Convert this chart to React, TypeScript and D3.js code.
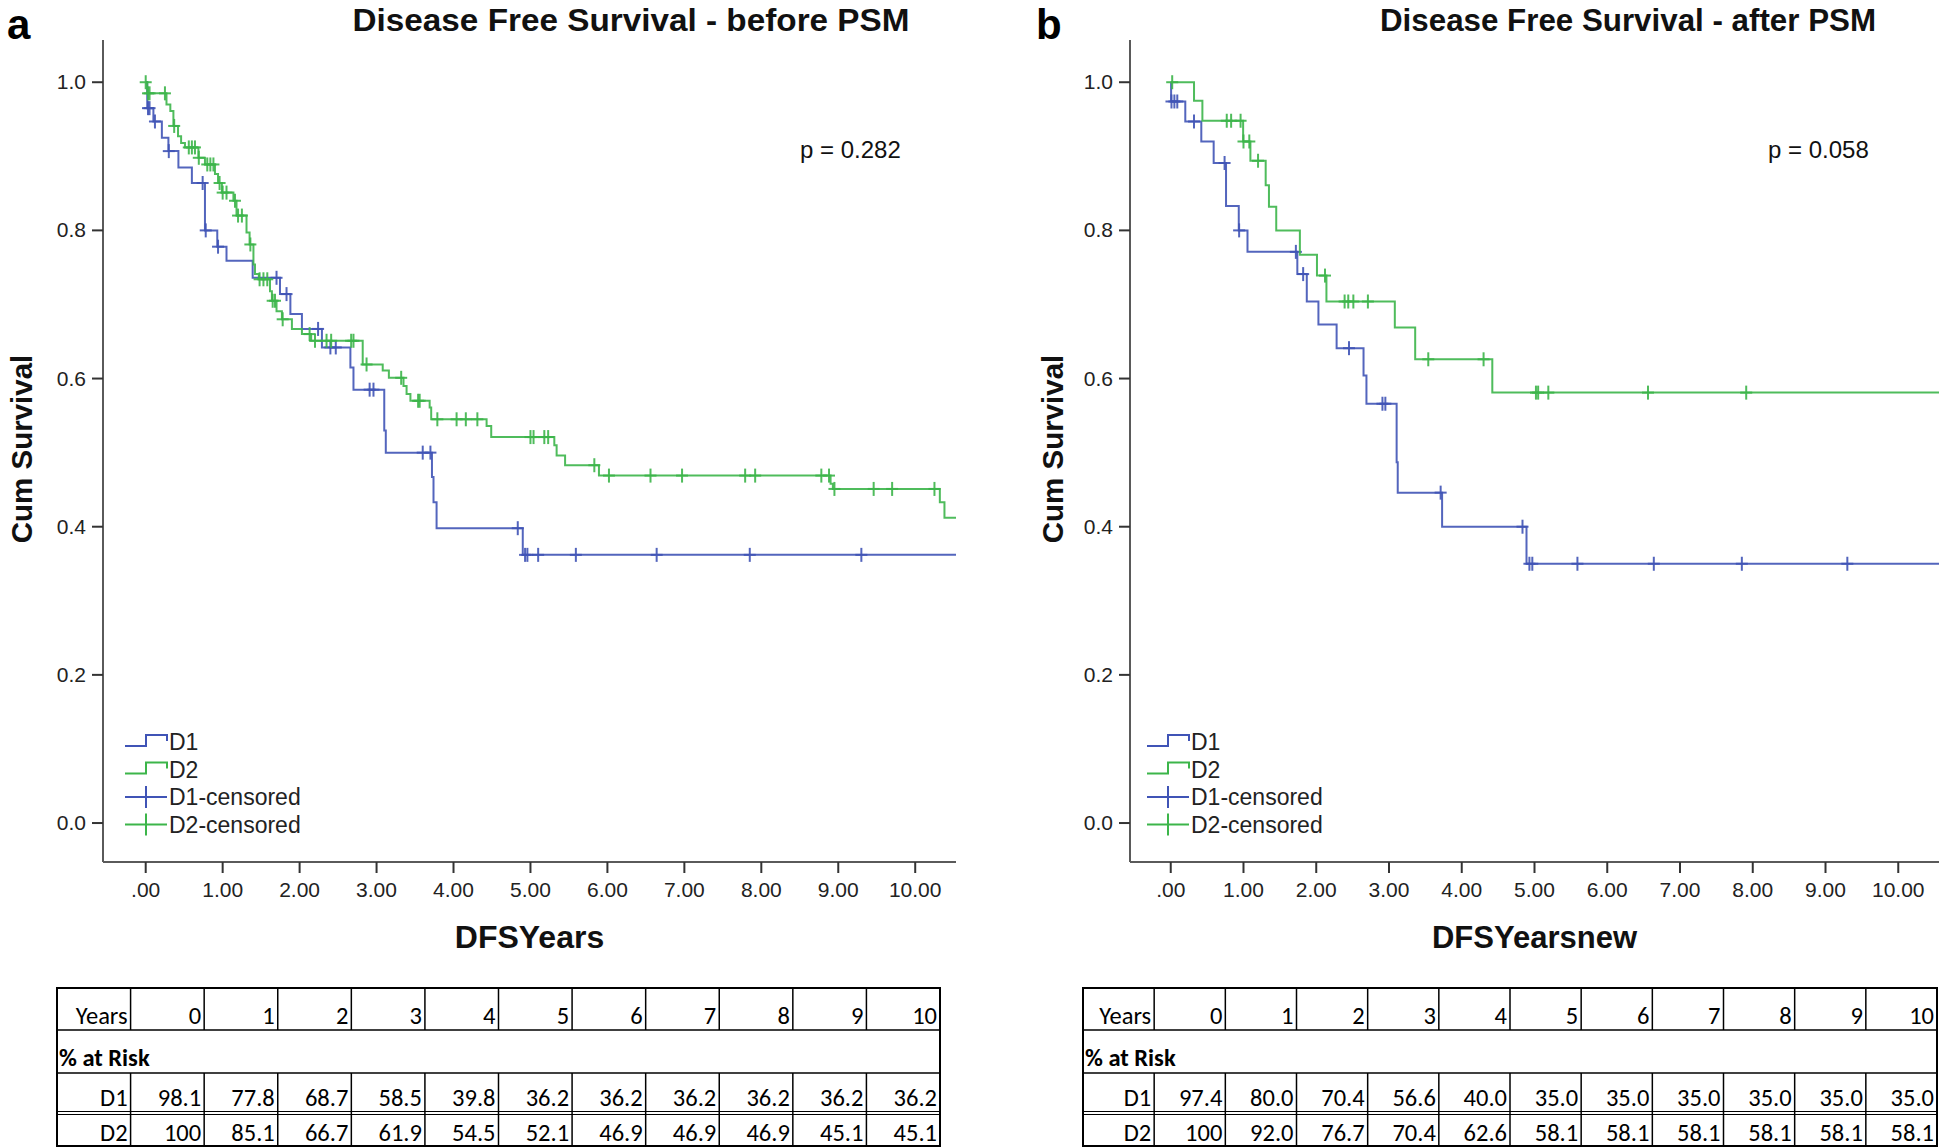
import React from "react";
import * as d3 from "d3";

type Pt = [number, number];

// ---------- shared ticks / labels ----------
const xTickValues = [0, 1, 2, 3, 4, 5, 6, 7, 8, 9, 10];
const xTickLabels = [".00", "1.00", "2.00", "3.00", "4.00", "5.00", "6.00", "7.00", "8.00", "9.00", "10.00"];
const yTickValues = [0, 0.2, 0.4, 0.6, 0.8, 1.0];
const yTickLabels = ["0.0", "0.2", "0.4", "0.6", "0.8", "1.0"];
const tableYears = ["0", "1", "2", "3", "4", "5", "6", "7", "8", "9", "10"];
const legendLabels = ["D1", "D2", "D1-censored", "D2-censored"];

// ---------- panel a (before PSM) ----------
const aD1Events: Pt[] = [
  [0.02, 0.965], [0.1, 0.947], [0.21, 0.925], [0.295, 0.907], [0.425, 0.885], [0.6, 0.864],
  [0.77, 0.8], [0.93, 0.778], [1.05, 0.759], [1.39, 0.736], [1.745, 0.714], [1.88, 0.687],
  [2.03, 0.667], [2.29, 0.642], [2.66, 0.615], [2.7, 0.585], [3.1, 0.53], [3.12, 0.5],
  [3.72, 0.467], [3.74, 0.433], [3.78, 0.398], [4.9, 0.362],
];
const aD1Censored = [
  0.03, 0.05, 0.12, 0.3, 0.74, 0.78, 0.94, 1.7, 1.83, 2.24, 2.4, 2.47, 2.91, 2.96, 3.6, 3.7,
  4.835, 4.93, 4.96, 5.1, 5.59, 6.64, 7.85, 9.3,
];
const aD1End = 10.53;

const aD2Events: Pt[] = [
  [0.02, 0.985], [0.27, 0.97], [0.32, 0.961], [0.36, 0.941], [0.42, 0.927], [0.46, 0.918],
  [0.51, 0.912], [0.685, 0.898], [0.77, 0.889], [0.9, 0.876], [0.94, 0.864], [0.99, 0.851],
  [1.14, 0.84], [1.18, 0.82], [1.31, 0.797], [1.35, 0.781], [1.4, 0.754], [1.42, 0.741],
  [1.47, 0.734], [1.615, 0.718], [1.64, 0.705], [1.7, 0.691], [1.77, 0.68], [1.9, 0.667],
  [2.03, 0.66], [2.15, 0.651], [2.82, 0.619], [3.08, 0.611], [3.16, 0.601], [3.35, 0.59],
  [3.39, 0.579], [3.44, 0.57], [3.69, 0.561], [3.71, 0.545], [4.43, 0.536], [4.49, 0.521],
  [5.31, 0.51], [5.34, 0.496], [5.45, 0.483], [5.89, 0.469], [8.9, 0.458], [8.93, 0.451],
  [10.32, 0.433], [10.38, 0.412],
];
const aD2Censored = [
  0.0, 0.03, 0.05, 0.25, 0.37, 0.56, 0.6, 0.64, 0.69, 0.8, 0.84, 0.88, 0.96, 1.0, 1.05, 1.16,
  1.2, 1.25, 1.36, 1.48, 1.53, 1.58, 1.65, 1.68, 1.78, 2.13, 2.2, 2.35, 2.41, 2.67, 2.7, 2.87,
  3.32, 3.54, 3.56, 3.79, 4.04, 4.16, 4.31, 5.0, 5.04, 5.18, 5.23, 5.83, 6.02, 6.56, 6.97,
  7.79, 7.92, 8.78, 8.88, 8.95, 9.46, 9.7, 10.25,
];
const aD2End = 10.53;

const aTableD1 = ["98.1", "77.8", "68.7", "58.5", "39.8", "36.2", "36.2", "36.2", "36.2", "36.2", "36.2"];
const aTableD2 = ["100", "85.1", "66.7", "61.9", "54.5", "52.1", "46.9", "46.9", "46.9", "45.1", "45.1"];

// ---------- panel b (after PSM) ----------
const bD1Events: Pt[] = [
  [0.005, 0.974], [0.2, 0.947], [0.42, 0.92], [0.59, 0.891], [0.76, 0.833], [0.935, 0.8],
  [1.055, 0.771], [1.74, 0.741], [1.87, 0.704], [2.03, 0.673], [2.28, 0.641], [2.65, 0.604],
  [2.69, 0.566], [3.105, 0.487], [3.12, 0.446], [3.73, 0.4], [4.89, 0.35],
];
const bD1Censored = [0.01, 0.05, 0.09, 0.32, 0.74, 0.94, 1.72, 1.82, 2.45, 2.91, 2.95, 3.71, 4.835, 4.93, 4.97, 5.59, 6.64, 7.85, 9.3];
const bD1End = 10.56;

const bD2Events: Pt[] = [
  [0.32, 0.975], [0.435, 0.948], [0.995, 0.92], [1.095, 0.894], [1.305, 0.861], [1.35, 0.832],
  [1.45, 0.8], [1.775, 0.767], [2.01, 0.739], [2.14, 0.704], [3.08, 0.669], [3.36, 0.626],
  [4.42, 0.581],
];
const bD2Censored = [0.02, 0.77, 0.83, 0.96, 1.0, 1.08, 1.2, 2.12, 2.39, 2.44, 2.51, 2.71, 3.54, 4.3, 5.02, 5.05, 5.19, 6.56, 7.91];
const bD2End = 10.56;

const bTableD1 = ["97.4", "80.0", "70.4", "56.6", "40.0", "35.0", "35.0", "35.0", "35.0", "35.0", "35.0"];
const bTableD2 = ["100", "92.0", "76.7", "70.4", "62.6", "58.1", "58.1", "58.1", "58.1", "58.1", "58.1"];

// ---------- styles ----------
const BLUE = "#4054b6";
const GREEN = "#3cb54a";
const AXIS = "#5a5a5a";
const FONT = "'Liberation Sans', Arial, sans-serif";
const TABLE_FONT = "Carlito, 'Liberation Sans Narrow', 'Liberation Sans', Arial, sans-serif";

const Y_DOMAIN: [number, number] = [-0.0526, 1.057];
const PLOT_TOP = 40;
const PLOT_BOTTOM = 862;

function survivalAt(events: Pt[], t: number): number {
  let v = 1;
  for (const e of events) if (e[0] <= t) v = e[1];
  return v;
}

type Series = { events: Pt[]; censored: number[]; end: number; color: string };

type PanelProps = {
  letter: string;
  letterX: number;
  title: string;
  titleX: number;
  titleLen: number;
  pText: string;
  pX: number;
  xTitle: string;
  xTitleSize: number;
  yTitleX: number;
  left: number;
  right: number;
  xDomain: [number, number];
  legendX: number;
  series: Series[];
};

function KMPanel(p: PanelProps) {
  const x = d3.scaleLinear().domain(p.xDomain).range([p.left, p.right]);
  const y = d3.scaleLinear().domain(Y_DOMAIN).range([PLOT_BOTTOM, PLOT_TOP]);
  const line = d3
    .line<Pt>()
    .x((d) => x(d[0]))
    .y((d) => y(d[1]))
    .curve(d3.curveStepAfter);

  const legendRows = [742, 769.5, 797, 824.5];
  const lx0 = p.legendX;
  const lx1 = p.legendX + 42;
  const lxm = p.legendX + 21;

  return (
    <g>
      <text x={p.letterX} y={39} fontFamily={FONT} fontWeight="bold" fontSize={42} fill="#000">
        {p.letter}
      </text>
      <text
        x={p.titleX}
        y={31}
        textAnchor="middle"
        fontFamily={FONT}
        fontWeight="bold"
        fontSize={32}
        fill="#111"
        textLength={p.titleLen}
        lengthAdjust="spacingAndGlyphs"
      >
        {p.title}
      </text>
      <text x={p.pX} y={158} fontFamily={FONT} fontSize={24} fill="#111">
        {p.pText}
      </text>

      {/* axes */}
      <line x1={p.left} x2={p.left} y1={PLOT_TOP} y2={PLOT_BOTTOM} stroke={AXIS} strokeWidth={2} />
      <line x1={p.left} x2={p.right} y1={PLOT_BOTTOM} y2={PLOT_BOTTOM} stroke={AXIS} strokeWidth={2} />
      {yTickValues.map((v, i) => (
        <g key={"yt" + i}>
          <line x1={p.left - 11} x2={p.left} y1={y(v)} y2={y(v)} stroke="#333" strokeWidth={2} />
          <text x={p.left - 17} y={y(v) + 7} textAnchor="end" fontFamily={FONT} fontSize={21} fill="#222">
            {yTickLabels[i]}
          </text>
        </g>
      ))}
      {xTickValues.map((v, i) => (
        <g key={"xt" + i}>
          <line x1={x(v)} x2={x(v)} y1={PLOT_BOTTOM} y2={PLOT_BOTTOM + 11} stroke="#333" strokeWidth={2} />
          <text x={x(v)} y={897} textAnchor="middle" fontFamily={FONT} fontSize={21} fill="#222">
            {xTickLabels[i]}
          </text>
        </g>
      ))}
      <text
        x={(p.left + p.right) / 2}
        y={948}
        textAnchor="middle"
        fontFamily={FONT}
        fontWeight="bold"
        fontSize={p.xTitleSize}
        fill="#111"
      >
        {p.xTitle}
      </text>
      <text
        transform={`translate(${p.yTitleX},449) rotate(-90)`}
        textAnchor="middle"
        dominantBaseline="central"
        fontFamily={FONT}
        fontWeight="bold"
        fontSize={29.5}
        fill="#111"
      >
        Cum Survival
      </text>

      {/* curves */}
      {p.series.map((s, si) => {
        const last = s.events.length ? s.events[s.events.length - 1][1] : 1;
        const pts: Pt[] = [[0, 1], ...s.events, [s.end, last]];
        return (
          <g key={"s" + si}>
            <path d={line(pts) || ""} fill="none" stroke={s.color} strokeWidth={2} opacity={0.9} />
            {s.censored.map((t, ci) => {
              const cx = x(t);
              const cy = y(survivalAt(s.events, t));
              return (
                <g key={"c" + ci} stroke={s.color} strokeWidth={2} opacity={0.9}>
                  <line x1={cx} x2={cx} y1={cy - 7} y2={cy + 7} />
                  <line x1={cx - 6} x2={cx + 6} y1={cy} y2={cy} />
                </g>
              );
            })}
          </g>
        );
      })}

      {/* legend */}
      {legendLabels.map((lab, i) => {
        const ly = legendRows[i];
        const color = i % 2 === 0 ? p.series[0].color : p.series[1].color;
        return (
          <g key={"lg" + i}>
            {i < 2 ? (
              <path
                d={`M${lx0},${ly + 4} H${lxm} V${ly - 7} H${lx1} V${ly - 1}`}
                fill="none"
                stroke={color}
                strokeWidth={2}
              />
            ) : (
              <g stroke={color} strokeWidth={2}>
                <line x1={lx0} x2={lx1} y1={ly} y2={ly} />
                <line x1={lxm} x2={lxm} y1={ly - 11} y2={ly + 11} />
              </g>
            )}
            <text x={lx1 + 2} y={ly + 8} fontFamily={FONT} fontSize={23} fill="#222">
              {lab}
            </text>
          </g>
        );
      })}
    </g>
  );
}

type TableProps = { left: number; right: number; d1: string[]; d2: string[] };

function RiskTable(p: TableProps) {
  const rows = [988, 1030, 1073, 1113, 1146];
  const cols = d3.range(13).map((i) => p.left + ((p.right - p.left) * i) / 12);
  const fs = 24.5;
  const rightText = (i: number) => cols[i + 1] - 3;
  return (
    <g fontFamily={TABLE_FONT} fontSize={fs} fill="#000">
      <rect x={p.left} y={rows[0]} width={p.right - p.left} height={rows[4] - rows[0]} fill="none" stroke="#000" strokeWidth={2} />
      <line x1={p.left} x2={p.right} y1={rows[1]} y2={rows[1]} stroke="#000" strokeWidth={1.5} />
      <line x1={p.left} x2={p.right} y1={rows[2]} y2={rows[2]} stroke="#000" strokeWidth={1.5} />
      <line x1={p.left} x2={p.right} y1={rows[3] - 1.5} y2={rows[3] - 1.5} stroke="#000" strokeWidth={1.2} />
      <line x1={p.left} x2={p.right} y1={rows[3] + 1.5} y2={rows[3] + 1.5} stroke="#000" strokeWidth={1.2} />
      {cols.slice(1, 12).map((cx, i) => (
        <g key={"v" + i}>
          <line x1={cx} x2={cx} y1={rows[0]} y2={rows[1]} stroke="#000" strokeWidth={1.5} />
          <line x1={cx} x2={cx} y1={rows[2]} y2={rows[4]} stroke="#000" strokeWidth={1.5} />
        </g>
      ))}
      <text x={rightText(0)} y={1024} textAnchor="end">Years</text>
      {tableYears.map((yr, i) => (
        <text key={"h" + i} x={rightText(i + 1)} y={1024} textAnchor="end">
          {yr}
        </text>
      ))}
      <text x={p.left + 2} y={1066} fontWeight="bold">% at Risk</text>
      <text x={rightText(0)} y={1106} textAnchor="end">D1</text>
      {p.d1.map((v, i) => (
        <text key={"d1" + i} x={rightText(i + 1)} y={1106} textAnchor="end">
          {v}
        </text>
      ))}
      <text x={rightText(0)} y={1141} textAnchor="end">D2</text>
      {p.d2.map((v, i) => (
        <text key={"d2" + i} x={rightText(i + 1)} y={1141} textAnchor="end">
          {v}
        </text>
      ))}
    </g>
  );
}

export default function App() {
  return (
    <svg
      width={1946}
      height={1148}
      viewBox="0 0 1946 1148"
      style={{ position: "absolute", left: 0, top: 0, background: "#fff" }}
    >
      <rect x={0} y={0} width={1946} height={1148} fill="#fff" />
      <KMPanel
        letter="a"
        letterX={7}
        title="Disease Free Survival - before PSM"
        titleX={631}
        titleLen={557}
        pText="p = 0.282"
        pX={800}
        xTitle="DFSYears"
        xTitleSize={32}
        yTitleX={21}
        left={103}
        right={956}
        xDomain={[-0.555, 10.53]}
        legendX={125}
        series={[
          { events: aD1Events, censored: aD1Censored, end: aD1End, color: BLUE },
          { events: aD2Events, censored: aD2Censored, end: aD2End, color: GREEN },
        ]}
      />
      <KMPanel
        letter="b"
        letterX={1036}
        title="Disease Free Survival - after PSM"
        titleX={1628}
        titleLen={496}
        pText="p = 0.058"
        pX={1768}
        xTitle="DFSYearsnew"
        xTitleSize={31}
        yTitleX={1052}
        left={1130}
        right={1939}
        xDomain={[-0.56, 10.56]}
        legendX={1147}
        series={[
          { events: bD1Events, censored: bD1Censored, end: bD1End, color: BLUE },
          { events: bD2Events, censored: bD2Censored, end: bD2End, color: GREEN },
        ]}
      />
      <RiskTable left={57} right={940} d1={aTableD1} d2={aTableD2} />
      <RiskTable left={1083} right={1937} d1={bTableD1} d2={bTableD2} />
    </svg>
  );
}
